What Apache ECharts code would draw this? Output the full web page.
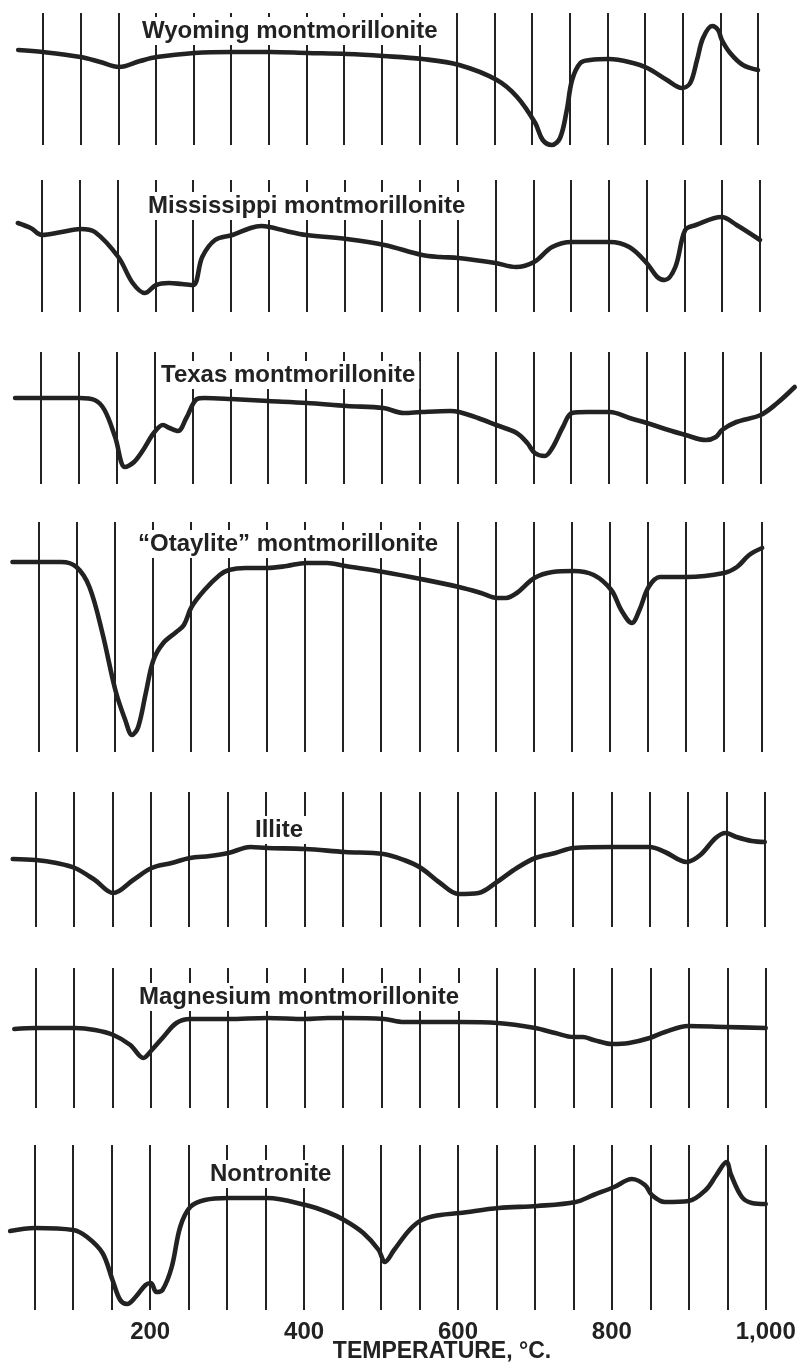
<!DOCTYPE html>
<html>
<head>
<meta charset="utf-8">
<script src="https://cdn.jsdelivr.net/npm/echarts@6/dist/echarts.min.js"></script>
<style>
html, body { margin: 0; padding: 0; background: #ffffff; }
#chart { width: 802px; height: 1370px; }
</style>
</head>
<body>
<div id="chart"></div>
<script>
// ---------------- DATA ----------------
const sampleNames = [
  'Wyoming montmorillonite',
  'Mississippi montmorillonite',
  'Texas montmorillonite',
  '\u201cOtaylite\u201d montmorillonite',
  'Illite',
  'Magnesium montmorillonite',
  'Nontronite'
];
const tickValues = [200, 400, 600, 800, 1000];
const tickLabels = ['200', '400', '600', '800', '1,000'];
const xAxisTitle = 'TEMPERATURE, \u00b0C.';

// temperature (°C) and trace height (arbitrary units, up = exothermic)
const wyomingT = [17, 50, 100, 126, 151, 179, 201, 251, 301, 352, 401, 454, 502, 554, 603, 653, 680, 704, 714, 726, 737, 746, 753, 764, 777, 802, 834, 853, 879, 899, 910, 919, 927, 939, 947, 952, 963, 980, 1000];
const wyomingV = [95, 93, 88, 83, 78, 84, 88, 92, 93, 93, 92, 91, 89, 86, 80, 65, 48, 22, 5, 0, 7, 35, 65, 82, 85, 86, 82, 77, 65, 57, 62, 85, 107, 119, 115, 105, 92, 80, 75];

const mississippiT = [18, 35, 50, 76, 101, 120, 151, 170, 186, 201, 218, 235, 250, 262, 279, 302, 326, 340, 351, 373, 400, 453, 503, 553, 577, 601, 650, 677, 701, 725, 751, 801, 827, 850, 864, 874, 888, 901, 915, 949, 969, 1000];
const mississippiV = [89, 84, 77, 80, 83, 80, 55, 29, 19, 27, 29, 28, 27, 55, 72, 77, 84, 86, 85, 81, 77, 73, 67, 57, 55, 54, 49, 45, 50, 65, 70, 70, 65, 49, 35, 32, 45, 82, 87, 95, 87, 72];

const texasT = [16, 50, 101, 121, 134, 148, 161, 173, 185, 199, 211, 220, 231, 242, 256, 266, 301, 350, 401, 454, 502, 529, 552, 590, 602, 627, 651, 678, 692, 702, 715, 725, 739, 751, 772, 801, 827, 850, 874, 901, 928, 941, 949, 968, 1000, 1022, 1045];
const texasV = [86, 86, 86, 84, 74, 47, 17, 22, 34, 51, 59, 56, 53, 66, 85, 86, 85, 83, 81, 78, 76, 71, 72, 73, 72, 66, 59, 51, 41, 31, 28, 36, 57, 71, 72, 72, 66, 61, 55, 49, 44, 47, 54, 62, 69, 81, 97];

const otayliteT = [16, 50, 80, 100, 117, 134, 151, 164, 173, 181, 191, 201, 214, 231, 241, 251, 268, 288, 300, 322, 350, 376, 401, 429, 453, 503, 552, 602, 631, 652, 664, 678, 701, 725, 752, 779, 802, 815, 829, 839, 851, 866, 901, 950, 967, 983, 1000];
const otayliteV = [190, 190, 190, 185, 165, 119, 62, 32, 17, 25, 59, 92, 109, 120, 127, 145, 162, 177, 182, 184, 184, 186, 189, 189, 186, 180, 173, 165, 159, 154, 154, 159, 174, 180, 181, 177, 162, 142, 129, 142, 165, 175, 175, 179, 185, 197, 204];

const illiteT = [20, 50, 77, 101, 127, 151, 177, 201, 227, 251, 277, 301, 330, 351, 401, 453, 503, 530, 552, 577, 601, 627, 651, 677, 701, 727, 751, 800, 850, 870, 898, 916, 936, 949, 963, 983, 1000];
const illiteV = [68, 67, 64, 59, 47, 34, 47, 59, 64, 69, 71, 74, 80, 79, 78, 75, 73, 67, 59, 44, 33, 34, 45, 59, 69, 74, 79, 80, 80, 75, 65, 72, 89, 94, 90, 86, 85];

const magnesiumT = [22, 50, 101, 127, 151, 173, 190, 201, 216, 233, 251, 301, 351, 401, 430, 453, 503, 529, 551, 601, 651, 700, 726, 750, 762, 776, 800, 822, 849, 869, 899, 947, 1000];
const magnesiumV = [79, 80, 80, 78, 73, 63, 50, 58, 71, 85, 89, 89, 90, 89, 90, 90, 89, 86, 86, 86, 85, 80, 75, 71, 71, 68, 64, 65, 70, 76, 82, 81, 80];

const nontroniteT = [18, 50, 100, 118, 138, 151, 161, 170, 181, 194, 201, 208, 216, 228, 239, 252, 271, 302, 352, 402, 430, 452, 477, 497, 505, 517, 537, 553, 577, 602, 653, 703, 753, 776, 803, 826, 843, 852, 869, 900, 922, 936, 949, 955, 969, 982, 1000];
const nontroniteV = [79, 82, 80, 73, 57, 30, 10, 6, 13, 25, 27, 18, 20, 43, 83, 103, 110, 112, 112, 105, 98, 90, 77, 60, 48, 60, 80, 90, 95, 97, 102, 104, 108, 115, 123, 131, 125, 115, 108, 109, 120, 135, 148, 135, 113, 107, 106];

const seriesT = [wyomingT, mississippiT, texasT, otayliteT, illiteT, magnesiumT, nontroniteT];
const seriesV = [wyomingV, mississippiV, texasV, otayliteV, illiteV, magnesiumV, nontroniteV];

// ---------------- LAYOUT (pixels) ----------------
const panels = [
  { left: 5.4,  right: 6.4,  top: 13,   height: 132, ymax: 132, lx: 142, ly: 31 },
  { left: 4.2,  right: 4.2,  top: 180,  height: 132, ymax: 132, lx: 148, ly: 206 },
  { left: 3.0,  right: 3.5,  top: 352,  height: 132, ymax: 132, lx: 161, ly: 375 },
  { left: 0.3,  right: 1.8,  top: 522,  height: 230, ymax: 230, lx: 138, ly: 544 },
  { left: -2.6, right: -1.1, top: 792,  height: 135, ymax: 135, lx: 255, ly: 830 },
  { left: -2.6, right: -2.1, top: 968,  height: 140, ymax: 140, lx: 139, ly: 997 },
  { left: -3.7, right: -2.2, top: 1145, height: 165, ymax: 165, lx: 210, ly: 1174 }
];

const ink = '#222222';
const labelFont = 'bold 24px "Liberation Sans", Arial, Helvetica, sans-serif';

const grids = [], xAxes = [], yAxes = [], series = [], graphics = [];
panels.forEach((p, i) => {
  const last = i === panels.length - 1;
  grids.push({ left: p.left, right: p.right, top: p.top, height: p.height, outerBoundsMode: 'none', containLabel: false });
  xAxes.push({
    type: 'value', gridIndex: i, min: 0, max: 1050, interval: 50,
    axisLine: { show: false }, axisTick: { show: false },
    splitLine: { show: true, showMinLine: false, showMaxLine: false, lineStyle: { color: ink, width: 2 } },
    axisLabel: {
      show: last, margin: 10, color: ink,
      fontFamily: '"Liberation Sans", Arial, sans-serif', fontWeight: 'bold', fontSize: 24,
      formatter: v => { const k = tickValues.indexOf(v); return k >= 0 ? tickLabels[k] : ''; }
    }
  });
  yAxes.push({ type: 'value', gridIndex: i, min: 0, max: p.ymax, show: false, splitLine: { show: false } });
  series.push({
    type: 'line', name: sampleNames[i], xAxisIndex: i, yAxisIndex: i,
    data: seriesT[i].map((t, k) => [t, seriesV[i][k]]),
    showSymbol: false, smooth: 0.35, clip: false, silent: true, z: 10,
    lineStyle: { color: ink, width: 4.6, cap: 'round', join: 'round' }
  });
  graphics.push({
    type: 'text', x: p.lx - 4, y: p.ly, z: 5, silent: true,
    style: {
      text: sampleNames[i], font: labelFont, fill: ink,
      align: 'left', verticalAlign: 'middle', textAlign: 'left', textVerticalAlign: 'middle',
      backgroundColor: '#ffffff', padding: [2, 4]
    }
  });
});
graphics.push({
  type: 'text', x: 442, y: 1352, z: 5, silent: true,
  style: {
    text: xAxisTitle, font: 'bold 23px "Liberation Sans", Arial, sans-serif', fill: ink,
    align: 'center', verticalAlign: 'middle', textAlign: 'center', textVerticalAlign: 'middle'
  }
});

const chart = echarts.init(document.getElementById('chart'), null, { renderer: 'canvas' });
chart.setOption({
  backgroundColor: '#ffffff',
  animation: false,
  grid: grids,
  xAxis: xAxes,
  yAxis: yAxes,
  series: series,
  graphic: { elements: graphics }
});
</script>
</body>
</html>
